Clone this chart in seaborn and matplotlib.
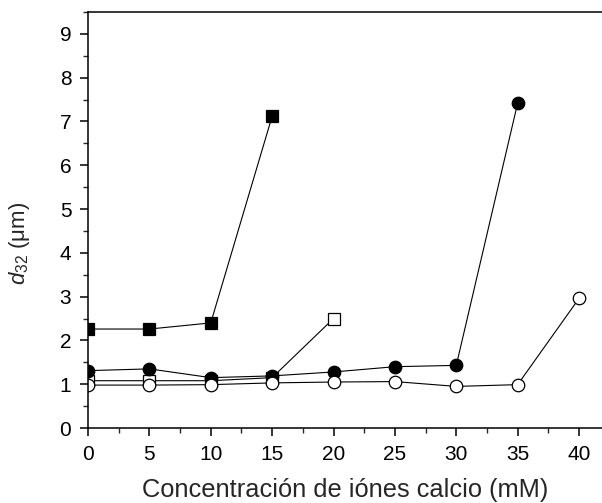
import matplotlib
matplotlib.use("Agg")
import matplotlib.pyplot as plt
import seaborn as sns
from matplotlib.ticker import MultipleLocator

# concentraciones (mM) y d32 (um) para cada serie
conc_sq_filled = [0, 5, 10, 15]
d32_sq_filled = [2.26, 2.26, 2.40, 7.12]

conc_sq_open = [0, 5, 10, 15, 20]
d32_sq_open = [1.08, 1.08, 1.08, 1.15, 2.50]

conc_circ_filled = [0, 5, 10, 15, 20, 25, 30, 35]
d32_circ_filled = [1.31, 1.35, 1.15, 1.19, 1.28, 1.40, 1.43, 7.42]

conc_circ_open = [0, 5, 10, 15, 20, 25, 30, 35, 40]
d32_circ_open = [0.98, 0.98, 0.99, 1.03, 1.05, 1.06, 0.95, 0.99, 2.96]

sns.set_style("ticks")
plt.rcParams["font.family"] = ["Liberation Sans", "DejaVu Sans"]
plt.rcParams["mathtext.fontset"] = "custom"
plt.rcParams["mathtext.rm"] = "Liberation Sans"
plt.rcParams["mathtext.it"] = "Liberation Sans:italic"

fig = plt.figure(figsize=(6.02, 5.03), dpi=100)
ax = fig.add_axes([88 / 602, 1 - 428 / 503, 514 / 602, 416 / 503])

line_kw = dict(color="black", linewidth=0.8, markeredgecolor="black",
               markeredgewidth=0.9)

sns.lineplot(x=conc_sq_open, y=d32_sq_open, marker="s", markersize=8,
             markerfacecolor="white", ax=ax, zorder=2, **line_kw)
sns.lineplot(x=conc_circ_filled, y=d32_circ_filled, marker="o", markersize=9,
             markerfacecolor="black", ax=ax, zorder=3, **line_kw)
sns.lineplot(x=conc_circ_open, y=d32_circ_open, marker="o", markersize=9,
             markerfacecolor="white", ax=ax, zorder=4, **line_kw)
sns.lineplot(x=conc_sq_filled, y=d32_sq_filled, marker="s", markersize=8,
             markerfacecolor="black", ax=ax, zorder=5, **line_kw)

ax.set_xlim(0, 41.87)
ax.set_ylim(0, 9.5)
ax.xaxis.set_major_locator(MultipleLocator(5))
ax.xaxis.set_minor_locator(MultipleLocator(2.5))
ax.yaxis.set_major_locator(MultipleLocator(1))
ax.yaxis.set_minor_locator(MultipleLocator(0.5))

ax.spines["right"].set_visible(False)
for s in ["left", "bottom", "top"]:
    ax.spines[s].set_linewidth(1.1)
    ax.spines[s].set_color("black")
    ax.spines[s].set_zorder(6)

ax.tick_params(which="major", direction="out", length=6, width=1.1,
               labelsize=15, pad=6, colors="black")
ax.tick_params(which="minor", direction="out", length=3.5, width=1.0)
ax.tick_params(top=False, right=False)

ax.set_xlabel("Concentración de iónes calcio (mM)", fontsize=18.3)
ax.set_ylabel(r"$\mathit{d}_{\mathrm{32}}$ ($\mathrm{\mu}$m)", fontsize=16)
ax.xaxis.set_label_coords(0.5, -0.121)
ax.yaxis.set_label_coords(-0.109, 0.445)

fig.savefig("out.png", dpi=100)
